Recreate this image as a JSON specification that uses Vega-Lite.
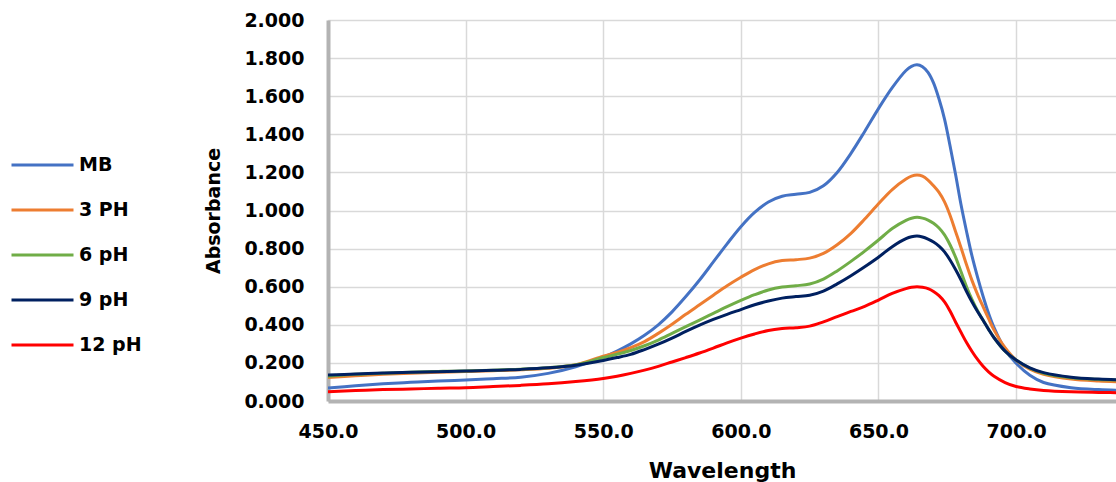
{
  "$schema": "https://vega.github.io/schema/vega-lite/v6.json",
  "width": 788,
  "height": 381,
  "autosize": {"type": "none"},
  "padding": {"left": 328, "top": 20, "right": 0, "bottom": 81},
  "background": "white",
  "view": {"stroke": "#d9d9d9", "strokeWidth": 1},
  "config": {
    "font": "DejaVu Sans",
    "axis": {"labelFont": "DejaVu Sans", "labelFontWeight": "bold", "labelColor": "#000000", "titleColor": "#000000", "titleFont": "DejaVu Sans", "titleFontWeight": "bold", "gridColor": "#d9d9d9", "gridWidth": 1.5, "ticks": false}
  },
  "data": {
    "values": [
      {"wl": 450, "MB": 0.068, "3 PH": 0.124, "6 pH": 0.13, "9 pH": 0.136, "12 pH": 0.049},
      {"wl": 460, "MB": 0.08, "3 PH": 0.132, "6 pH": 0.14, "9 pH": 0.142, "12 pH": 0.055},
      {"wl": 470, "MB": 0.09, "3 PH": 0.14, "6 pH": 0.146, "9 pH": 0.147, "12 pH": 0.06},
      {"wl": 480, "MB": 0.098, "3 PH": 0.146, "6 pH": 0.151, "9 pH": 0.151, "12 pH": 0.063},
      {"wl": 490, "MB": 0.105, "3 PH": 0.151, "6 pH": 0.155, "9 pH": 0.154, "12 pH": 0.067},
      {"wl": 500, "MB": 0.11, "3 PH": 0.155, "6 pH": 0.158, "9 pH": 0.157, "12 pH": 0.07},
      {"wl": 510, "MB": 0.117, "3 PH": 0.159, "6 pH": 0.162, "9 pH": 0.161, "12 pH": 0.076},
      {"wl": 520, "MB": 0.125, "3 PH": 0.164, "6 pH": 0.167, "9 pH": 0.166, "12 pH": 0.082},
      {"wl": 530, "MB": 0.145, "3 PH": 0.172, "6 pH": 0.175, "9 pH": 0.174, "12 pH": 0.09},
      {"wl": 540, "MB": 0.18, "3 PH": 0.19, "6 pH": 0.19, "9 pH": 0.188, "12 pH": 0.102},
      {"wl": 550, "MB": 0.23, "3 PH": 0.235, "6 pH": 0.228, "9 pH": 0.213, "12 pH": 0.118},
      {"wl": 555, "MB": 0.262, "3 PH": 0.255, "6 pH": 0.245, "9 pH": 0.228, "12 pH": 0.13},
      {"wl": 560, "MB": 0.30, "3 PH": 0.28, "6 pH": 0.265, "9 pH": 0.245, "12 pH": 0.145},
      {"wl": 565, "MB": 0.345, "3 PH": 0.312, "6 pH": 0.29, "9 pH": 0.27, "12 pH": 0.162},
      {"wl": 570, "MB": 0.40, "3 PH": 0.355, "6 pH": 0.32, "9 pH": 0.298, "12 pH": 0.182},
      {"wl": 575, "MB": 0.468, "3 PH": 0.403, "6 pH": 0.355, "9 pH": 0.33, "12 pH": 0.205},
      {"wl": 580, "MB": 0.548, "3 PH": 0.455, "6 pH": 0.39, "9 pH": 0.365, "12 pH": 0.228},
      {"wl": 585, "MB": 0.635, "3 PH": 0.505, "6 pH": 0.425, "9 pH": 0.398, "12 pH": 0.252},
      {"wl": 590, "MB": 0.73, "3 PH": 0.555, "6 pH": 0.46, "9 pH": 0.428, "12 pH": 0.278},
      {"wl": 595, "MB": 0.825, "3 PH": 0.605, "6 pH": 0.495, "9 pH": 0.455, "12 pH": 0.305},
      {"wl": 600, "MB": 0.915, "3 PH": 0.65, "6 pH": 0.528, "9 pH": 0.48, "12 pH": 0.33},
      {"wl": 605, "MB": 0.99, "3 PH": 0.69, "6 pH": 0.558, "9 pH": 0.505, "12 pH": 0.352},
      {"wl": 610, "MB": 1.045, "3 PH": 0.72, "6 pH": 0.583, "9 pH": 0.525, "12 pH": 0.37},
      {"wl": 615, "MB": 1.075, "3 PH": 0.737, "6 pH": 0.598, "9 pH": 0.54, "12 pH": 0.38},
      {"wl": 620, "MB": 1.085, "3 PH": 0.742, "6 pH": 0.605, "9 pH": 0.548, "12 pH": 0.385},
      {"wl": 625, "MB": 1.095, "3 PH": 0.75, "6 pH": 0.614, "9 pH": 0.555, "12 pH": 0.393},
      {"wl": 630, "MB": 1.13, "3 PH": 0.775, "6 pH": 0.64, "9 pH": 0.577, "12 pH": 0.415},
      {"wl": 635, "MB": 1.20, "3 PH": 0.82, "6 pH": 0.683, "9 pH": 0.615, "12 pH": 0.443},
      {"wl": 640, "MB": 1.30, "3 PH": 0.88, "6 pH": 0.733, "9 pH": 0.658, "12 pH": 0.47},
      {"wl": 645, "MB": 1.415, "3 PH": 0.955, "6 pH": 0.787, "9 pH": 0.705, "12 pH": 0.497},
      {"wl": 650, "MB": 1.535, "3 PH": 1.035, "6 pH": 0.845, "9 pH": 0.755, "12 pH": 0.53},
      {"wl": 655, "MB": 1.645, "3 PH": 1.11, "6 pH": 0.905, "9 pH": 0.81, "12 pH": 0.565},
      {"wl": 660, "MB": 1.735, "3 PH": 1.165, "6 pH": 0.948, "9 pH": 0.852, "12 pH": 0.59},
      {"wl": 662, "MB": 1.757, "3 PH": 1.18, "6 pH": 0.959, "9 pH": 0.862, "12 pH": 0.597},
      {"wl": 664, "MB": 1.765, "3 PH": 1.186, "6 pH": 0.964, "9 pH": 0.866, "12 pH": 0.60},
      {"wl": 666, "MB": 1.755, "3 PH": 1.18, "6 pH": 0.96, "9 pH": 0.861, "12 pH": 0.597},
      {"wl": 668, "MB": 1.725, "3 PH": 1.16, "6 pH": 0.95, "9 pH": 0.85, "12 pH": 0.59},
      {"wl": 670, "MB": 1.67, "3 PH": 1.13, "6 pH": 0.933, "9 pH": 0.835, "12 pH": 0.575},
      {"wl": 672, "MB": 1.585, "3 PH": 1.095, "6 pH": 0.908, "9 pH": 0.813, "12 pH": 0.553},
      {"wl": 674, "MB": 1.48, "3 PH": 1.045, "6 pH": 0.872, "9 pH": 0.783, "12 pH": 0.52},
      {"wl": 676, "MB": 1.34, "3 PH": 0.975, "6 pH": 0.82, "9 pH": 0.74, "12 pH": 0.472},
      {"wl": 678, "MB": 1.19, "3 PH": 0.89, "6 pH": 0.755, "9 pH": 0.69, "12 pH": 0.415},
      {"wl": 680, "MB": 1.03, "3 PH": 0.805, "6 pH": 0.678, "9 pH": 0.635, "12 pH": 0.36},
      {"wl": 682, "MB": 0.89, "3 PH": 0.715, "6 pH": 0.60, "9 pH": 0.575, "12 pH": 0.307},
      {"wl": 684, "MB": 0.76, "3 PH": 0.632, "6 pH": 0.532, "9 pH": 0.52, "12 pH": 0.26},
      {"wl": 686, "MB": 0.65, "3 PH": 0.56, "6 pH": 0.474, "9 pH": 0.47, "12 pH": 0.218},
      {"wl": 688, "MB": 0.55, "3 PH": 0.495, "6 pH": 0.425, "9 pH": 0.424, "12 pH": 0.182},
      {"wl": 690, "MB": 0.46, "3 PH": 0.432, "6 pH": 0.377, "9 pH": 0.376, "12 pH": 0.153},
      {"wl": 692, "MB": 0.385, "3 PH": 0.372, "6 pH": 0.332, "9 pH": 0.332, "12 pH": 0.13},
      {"wl": 696, "MB": 0.27, "3 PH": 0.28, "6 pH": 0.262, "9 pH": 0.262, "12 pH": 0.097},
      {"wl": 700, "MB": 0.198, "3 PH": 0.215, "6 pH": 0.215, "9 pH": 0.215, "12 pH": 0.076},
      {"wl": 705, "MB": 0.135, "3 PH": 0.167, "6 pH": 0.172, "9 pH": 0.174, "12 pH": 0.063},
      {"wl": 710, "MB": 0.097, "3 PH": 0.14, "6 pH": 0.146, "9 pH": 0.149, "12 pH": 0.055},
      {"wl": 720, "MB": 0.07, "3 PH": 0.115, "6 pH": 0.122, "9 pH": 0.125, "12 pH": 0.048},
      {"wl": 730, "MB": 0.06, "3 PH": 0.105, "6 pH": 0.113, "9 pH": 0.115, "12 pH": 0.045},
      {"wl": 740, "MB": 0.056, "3 PH": 0.1, "6 pH": 0.11, "9 pH": 0.11, "12 pH": 0.043}
    ]
  },
  "transform": [
    {"fold": ["MB", "3 PH", "6 pH", "9 pH", "12 pH"], "as": ["series", "absorbance"]}
  ],
  "mark": {"type": "line", "interpolate": "catmull-rom", "strokeWidth": 3, "clip": true},
  "encoding": {
    "x": {
      "field": "wl", "type": "quantitative",
      "scale": {"domain": [450, 736.3], "nice": false, "zero": false},
      "axis": {"values": [450, 500, 550, 600, 650, 700], "format": ".1f", "labelFontSize": 19, "labelPadding": 21, "title": "Wavelength", "titleFontSize": 22, "titlePadding": 19, "domainColor": "#b3b3b3", "domainWidth": 4, "labelFlush": false, "labelOverlap": false}
    },
    "y": {
      "field": "absorbance", "type": "quantitative",
      "scale": {"domain": [0, 2], "nice": false},
      "axis": {"values": [0, 0.2, 0.4, 0.6, 0.8, 1.0, 1.2, 1.4, 1.6, 1.8, 2.0], "format": ".3f", "labelFontSize": 19, "labelPadding": 24, "title": "Absorbance", "titleFontSize": 19, "titlePadding": 20, "domainColor": "#b3b3b3", "domainWidth": 4, "labelFlush": false, "labelOverlap": false}
    },
    "color": {
      "field": "series", "type": "nominal",
      "scale": {"domain": ["MB", "3 PH", "6 pH", "9 pH", "12 pH"], "range": ["#4472C4", "#ED7D31", "#70AD47", "#002060", "#FF0000"]},
      "legend": {"title": null, "orient": "none", "legendX": -318, "legendY": 135, "symbolType": "stroke", "symbolSize": 3844, "symbolStrokeWidth": 3, "labelFontSize": 19, "labelFont": "DejaVu Sans", "labelFontWeight": "bold", "labelColor": "#000000", "labelOffset": 4, "clipHeight": 20, "rowPadding": 25}
    }
  }
}
